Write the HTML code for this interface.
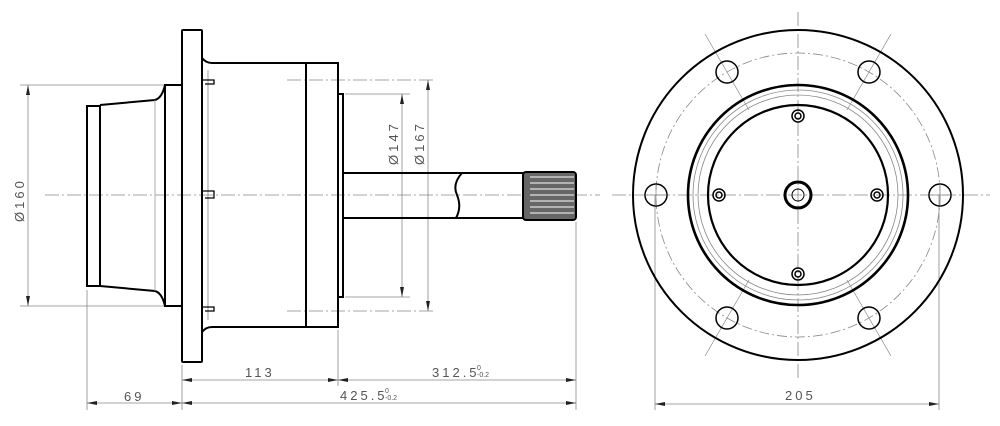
<!DOCTYPE html>
<html><head><style>body{margin:0;background:#fff}svg{display:block}text{font-family:"Liberation Sans",sans-serif;fill:#555;font-size:13px;letter-spacing:3px}</style></head><body>
<svg width="1000" height="426" viewBox="0 0 1000 426" xmlns="http://www.w3.org/2000/svg">
<g fill="none" stroke="#888" stroke-width="0.8">
<line x1="45" y1="195" x2="600" y2="195" stroke-dasharray="14 3 2 3"/>
<line x1="612" y1="195" x2="990" y2="195" stroke-dasharray="14 3 2 3"/>
<line x1="798" y1="12" x2="798" y2="380" stroke-dasharray="14 3 2 3"/>
<line x1="287" y1="80" x2="436" y2="80" stroke-dasharray="14 3 2 3"/>
<line x1="287" y1="311" x2="436" y2="311" stroke-dasharray="14 3 2 3"/>
<circle cx="798" cy="195" r="142" stroke-dasharray="10 3 2 3"/>
<circle cx="798" cy="195" r="105"/><circle cx="798" cy="195" r="100"/>
<line x1="208" y1="70" x2="208" y2="320"/>
<line x1="20" y1="85" x2="165" y2="85"/><line x1="20" y1="306" x2="165" y2="306"/>
<line x1="28" y1="85" x2="28" y2="306"/>
<line x1="345" y1="94" x2="410" y2="94"/><line x1="345" y1="297" x2="410" y2="297"/>
<line x1="402" y1="94" x2="402" y2="297"/><line x1="428" y1="80" x2="428" y2="311"/>
<line x1="87" y1="290" x2="87" y2="410"/><line x1="182" y1="365" x2="182" y2="410"/>
<line x1="338" y1="330" x2="338" y2="386"/><line x1="576" y1="222" x2="576" y2="410"/>
<line x1="182" y1="380" x2="576" y2="380"/><line x1="87" y1="403" x2="576" y2="403"/>
<line x1="655" y1="195" x2="655" y2="410"/><line x1="939" y1="195" x2="939" y2="410"/>
<line x1="655" y1="404" x2="939" y2="404"/>
<g stroke-width="0.7"><line x1="749" y1="110" x2="705" y2="34"/><line x1="847" y1="110" x2="891" y2="34"/><line x1="749" y1="280" x2="705" y2="356"/><line x1="847" y1="280" x2="891" y2="356"/></g>
</g>
<g fill="#222">
<path d="M28 85l-2 10h4z M28 306l-2-10h4z M402 94l-2 10h4z M402 297l-2-10h4z M428 80l-2 10h4z M428 311l-2-10h4z"/>
<path d="M182 380l10-2v4z M338 380l-10-2v4z M338 380l10-2v4z M576 380l-10-2v4z"/>
<path d="M87 403l10-2v4z M182 403l-10-2v4z M182 403l10-2v4z M576 403l-10-2v4z M655 404l10-2v4z M939 404l-10-2v4z"/>
</g>
<g fill="none" stroke="#000" stroke-width="2">
<rect x="87" y="106" width="13" height="180"/>
<path d="M100 105 L155 100 Q162 98 165 85 M100 286 L155 291 Q162 293 165 306"/>
<line x1="155" y1="100" x2="155" y2="291" stroke="#999" stroke-width="0.8"/>
<rect x="165" y="85" width="17" height="221"/>
<rect x="182" y="30" width="20" height="332" rx="1"/>
<path d="M202 58 Q206 63 212 63 L306 63 L306 327 L212 327 Q206 327 202 332"/>
<path d="M203 80 L214 80 L214 84 L205 84 M203 191 L214 191 L214 198 L205 198 M203 307 L214 307 L214 311 L205 311" stroke-width="1.3"/>
<rect x="306" y="63" width="32" height="264"/>
<rect x="338" y="94" width="5" height="203"/>
<path d="M343 173 L462 173 Q452 184 457 195 Q462 207 456 218 L343 218 M462 173 L523 173 M456 218 L523 218"/>
<rect x="523" y="172" width="53" height="48" rx="3" fill="#666"/>
<g stroke="#fff" stroke-width="1"><line x1="530" y1="177" x2="574" y2="177"/><line x1="530" y1="183" x2="574" y2="183"/><line x1="530" y1="189" x2="574" y2="189"/><line x1="530" y1="195" x2="574" y2="195"/><line x1="530" y1="201" x2="574" y2="201"/><line x1="530" y1="207" x2="574" y2="207"/><line x1="530" y1="213" x2="574" y2="213"/></g>
<circle cx="798" cy="195" r="165"/>
<circle cx="798" cy="195" r="110" stroke-width="2.6"/>
<circle cx="798" cy="195" r="90" stroke-width="2.2"/>
<g stroke-width="1.5"><circle cx="656" cy="195" r="11"/><circle cx="940" cy="195" r="11"/><circle cx="727" cy="72" r="11"/><circle cx="869" cy="72" r="11"/><circle cx="727" cy="318" r="11"/><circle cx="869" cy="318" r="11"/>
<circle cx="798" cy="116" r="6"/><circle cx="798" cy="116" r="3"/><circle cx="798" cy="274" r="6"/><circle cx="798" cy="274" r="3"/><circle cx="719" cy="195" r="6"/><circle cx="719" cy="195" r="3"/><circle cx="877" cy="195" r="6"/><circle cx="877" cy="195" r="3"/></g>
<circle cx="798" cy="195" r="13" stroke-width="3"/><circle cx="798" cy="195" r="6" stroke-width="1"/>
</g>
<g stroke="#888" stroke-width="0.7"><line x1="645" y1="195" x2="667" y2="195"/><line x1="656" y1="184" x2="656" y2="206"/><line x1="929" y1="195" x2="951" y2="195"/><line x1="940" y1="184" x2="940" y2="206"/></g>
<text x="124" y="401">69</text>
<text x="245" y="377">113</text>
<text x="432" y="377">312.5</text><text x="477" y="370" style="font-size:7px;letter-spacing:0">0</text><text x="477" y="377" style="font-size:7px;letter-spacing:0">-0.2</text>
<text x="340" y="400">425.5</text><text x="385" y="393" style="font-size:7px;letter-spacing:0">0</text><text x="385" y="400" style="font-size:7px;letter-spacing:0">-0.2</text>
<text x="785" y="400">205</text>
<text transform="translate(24,222) rotate(-90)">Ø160</text>
<text transform="translate(398,165) rotate(-90)">Ø147</text>
<text transform="translate(424,165) rotate(-90)">Ø167</text>
</svg>
</body></html>
